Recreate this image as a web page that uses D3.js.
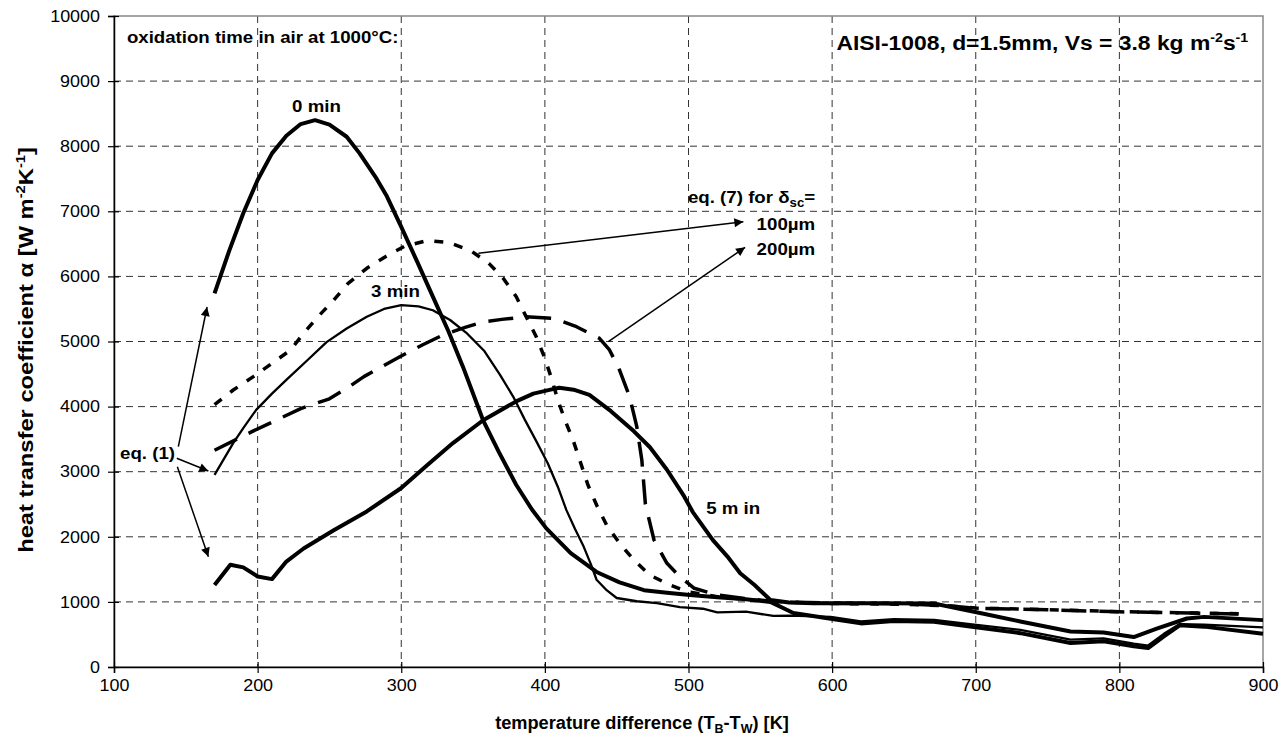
<!DOCTYPE html>
<html>
<head>
<meta charset="utf-8">
<script src="https://cdn.jsdelivr.net/npm/d3@7"></script>
<style>
  body { margin: 0; background: #fff; }
  text { font-family: "Liberation Sans", Arial, sans-serif; }
</style>
</head>
<body>
<svg width="1284" height="744"></svg>
<script>
// Data: [temperature difference K, alpha W/m2K]
const min0 = [[170,5740],[180,6380],[190,6970],[200,7480],[210,7890],[220,8160],[230,8340],[240,8400],[250,8330],[262,8145],[271,7890],[282,7530],[290,7230],[300,6760],[311,6230],[322,5690],[333,5150],[343,4610],[357,3790],[368,3300],[380,2800],[391,2420],[401,2130],[418,1750],[436,1460],[452,1300],[469,1180],[485,1140],[501,1106],[520,1070],[540,1040],[557,1000],[573,830],[599,740],[620,670],[643,705],[671,695],[696,620],[731,520],[766,370],[789,395],[810,320],[820,290],[831,470],[842,640],[859,620],[900,510]];
const min3 = [[170,2950],[183,3440],[190,3670],[199,3950],[210,4200],[220,4410],[235,4720],[248,4990],[262,5200],[276,5380],[288,5500],[300,5560],[312,5540],[322,5480],[334,5330],[346,5120],[358,4850],[369,4480],[378,4150],[386,3800],[394,3470],[402,3130],[409,2770],[415,2410],[421,2120],[427,1850],[432,1580],[436,1340],[443,1180],[450,1060],[464,1010],[478,980],[494,920],[510,895],[520,840],[540,850],[559,785],[571,790],[599,770],[620,700],[643,735],[671,725],[696,660],[731,570],[766,420],[789,440],[810,360],[820,330],[831,510],[842,660],[859,650],[900,610]];
const min5 = [[170,1260],[181,1570],[190,1530],[200,1390],[210,1350],[220,1620],[232,1820],[253,2100],[276,2390],[300,2750],[318,3100],[336,3440],[357,3790],[380,4080],[392,4200],[404,4260],[410,4290],[420,4260],[431,4180],[446,3930],[462,3620],[473,3380],[485,3030],[497,2620],[503,2380],[517,1950],[527,1700],[536,1440],[546,1260],[557,1030],[570,990],[587,980],[633,980],[671,975],[687,900],[703,830],[731,700],[766,545],[789,530],[810,460],[826,590],[847,745],[859,770],[900,720]];
const eq7_100 = [[170,4030],[183,4255],[197,4460],[210,4665],[223,4870],[232,5125],[242,5380],[253,5637],[263,5893],[276,6124],[289,6302],[302,6460],[318,6550],[333,6520],[348,6400],[361,6200],[371,5970],[380,5690],[387,5380],[394,5073],[400,4741],[405,4408],[409,4101],[414,3794],[420,3461],[425,3129],[430,2795],[436,2488],[443,2181],[452,1900],[462,1643],[473,1413],[487,1260],[499,1157],[520,1080],[540,1040],[560,1000],[600,975],[650,965],[680,940],[700,905],[750,880],[800,850],[850,830],[890,815]];
const eq7_200 = [[170,3330],[196,3615],[230,3970],[250,4120],[262,4280],[274,4460],[299,4766],[315,4950],[329,5100],[345,5220],[357,5300],[370,5340],[387,5380],[406,5356],[422,5227],[438,5049],[445,4870],[452,4562],[459,4152],[464,3691],[467.5,3180],[470,2500],[476,1951],[485,1593],[494,1387],[504,1209],[520,1106],[540,1050],[560,1005],[600,980],[650,970],[680,940],[700,900],[750,878],[800,848],[850,828],[890,812]];

const xTicks = [100, 200, 300, 400, 500, 600, 700, 800, 900];
const yTicks = [0, 1000, 2000, 3000, 4000, 5000, 6000, 7000, 8000, 9000, 10000];

// annotation arrows in data units: [from, to]
const arrows = [
    [[144.8, 3384], [164.8, 5530]],
    [[143.7, 3206], [165.7, 3010]],
    [[144.1, 3077], [165.7, 1694]],
    [[353.7, 6354], [538.2, 6840]],
    [[444.2, 4997], [539.4, 6447]]
];

// Constants
const svg = d3.select('svg');
const margin = { top: 16, right: 21, bottom: 77, left: 114 };
const width = +svg.attr('width') - margin.left - margin.right;
const height = +svg.attr('height') - margin.top - margin.bottom;
const stretch = 1.1; // the original lettering is a bit wider than Arial

const x = d3.scaleLinear().domain([100, 900]).range([0, width]);
const y = d3.scaleLinear().domain([0, 10000]).range([height, 0]);

svg.append('defs').append('marker')
    .attr('id', 'arrow')
    .attr('viewBox', '0 0 10 10')
    .attr('refX', 10).attr('refY', 5)
    .attr('markerWidth', 13).attr('markerHeight', 9)
    .attr('markerUnits', 'userSpaceOnUse')
    .attr('orient', 'auto')
    .append('path')
    .attr('d', 'M0,0L10,5L0,10z')
    .attr('fill', '#000');

const g = svg.append('g').attr('transform', `translate(${margin.left},${margin.top})`);

// grid
g.append('g').selectAll('line')
    .data(yTicks.slice(1, -1))
    .join('line')
    .attr('x1', 0).attr('x2', width)
    .attr('y1', d => y(d)).attr('y2', d => y(d))
    .attr('stroke', '#333').attr('stroke-width', 1).attr('stroke-dasharray', '7,5');
g.append('g').selectAll('line')
    .data(xTicks.slice(1, -1))
    .join('line')
    .attr('y1', 0).attr('y2', height)
    .attr('x1', d => x(d)).attr('x2', d => x(d))
    .attr('stroke', '#333').attr('stroke-width', 1).attr('stroke-dasharray', '7,5');

// frame
g.append('rect')
    .attr('width', width).attr('height', height)
    .attr('fill', 'none').attr('stroke', '#888').attr('stroke-width', 1.5);

// axes
const xAxis = g.append('g')
    .attr('transform', `translate(0,${height})`)
    .call(d3.axisBottom(x).tickValues(xTicks).tickSize(6).tickPadding(6).tickFormat(d3.format('d')));
const yAxis = g.append('g')
    .call(d3.axisLeft(y).tickValues(yTicks).tickSize(6).tickPadding(8).tickFormat(d3.format('d')));
xAxis.selectAll('.tick line').attr('y1', -5);
yAxis.selectAll('.tick line').attr('x1', 5);
[xAxis, yAxis].forEach(a => {
    a.select('.domain').attr('stroke', '#000').attr('stroke-width', 1.5);
    a.selectAll('.tick line').attr('stroke', '#000').attr('stroke-width', 1.2);
    a.selectAll('text').attr('font-size', 16.3).attr('fill', '#000')
        .attr('font-family', '"Liberation Sans", Arial, sans-serif');
});
xAxis.selectAll('text').attr('transform', `scale(${stretch},1)`);
yAxis.selectAll('text').attr('x', 0).attr('transform', `translate(-14,0) scale(${stretch},1)`);

// curves
const line = d3.line().x(d => x(d[0])).y(d => y(d[1]));
const series = [
    { data: eq7_100, w: 3.5, dash: '9,11' },
    { data: eq7_200, w: 3.5, dash: '25,13' },
    { data: min3, w: 2.3, dash: null },
    { data: min5, w: 4, dash: null },
    { data: min0, w: 4, dash: null }
];
g.append('g').selectAll('path')
    .data(series)
    .join('path')
    .attr('d', d => line(d.data))
    .attr('fill', 'none')
    .attr('stroke', '#000')
    .attr('stroke-width', d => d.w)
    .attr('stroke-linejoin', 'round')
    .attr('stroke-dasharray', d => d.dash);

// arrows
g.append('g').selectAll('line')
    .data(arrows)
    .join('line')
    .attr('x1', d => x(d[0][0])).attr('y1', d => y(d[0][1]))
    .attr('x2', d => x(d[1][0])).attr('y2', d => y(d[1][1]))
    .attr('stroke', '#000').attr('stroke-width', 1.5)
    .attr('marker-end', 'url(#arrow)');

// labels (placed in data units, widened a little like the original)
const label = (tx, ty, anchor, size, sx = stretch) => g.append('g')
    .attr('transform', `translate(${x(tx)},${y(ty)}) scale(${sx},1)`)
    .append('text')
    .attr('text-anchor', anchor)
    .attr('font-size', size)
    .attr('font-weight', 'bold');

label(109, 9592, 'start', 16.5, 1.13).text('oxidation time in air at 1000°C:');
const aisi = label(889.7, 9485, 'end', 21, 1.09);
aisi.append('tspan').text('AISI-1008, d=1.5mm, Vs = 3.8 kg m');
aisi.append('tspan').attr('dy', -8).attr('font-size', 13).text('-2');
aisi.append('tspan').attr('dy', 8).text('s');
aisi.append('tspan').attr('dy', -8).attr('font-size', 13).text('-1');

label(241, 8525, 'middle', 17).text('0 min');
label(296, 5683, 'middle', 17).text('3 min');
label(512.3, 2350, 'start', 17).text('5 m in');
label(104.2, 3195, 'start', 17).text('eq. (1)');

const eq7 = label(588.2, 7135, 'end', 17);
eq7.append('tspan').text('eq. (7) for δ');
eq7.append('tspan').attr('dy', 4).attr('font-size', 12).text('sc');
eq7.append('tspan').attr('dy', -4).text('=');
label(588.2, 6712, 'end', 17).text('100µm');
label(588.2, 6336, 'end', 17).text('200µm');

// axis titles
const xt = svg.append('g')
    .attr('transform', `translate(642,729) scale(1.04,1)`)
    .append('text')
    .attr('text-anchor', 'middle').attr('font-size', 17.5).attr('font-weight', 'bold');
xt.append('tspan').text('temperature difference (T');
xt.append('tspan').attr('dy', 4).attr('font-size', 12).text('B');
xt.append('tspan').attr('dy', -4).text('-T');
xt.append('tspan').attr('dy', 4).attr('font-size', 12).text('W');
xt.append('tspan').attr('dy', -4).text(') [K]');

const yt = svg.append('g')
    .attr('transform', `translate(33,350) rotate(-90) scale(1.13,1)`)
    .append('text')
    .attr('text-anchor', 'middle').attr('font-size', 21).attr('font-weight', 'bold');
yt.append('tspan').text('heat transfer coefficient α [W m');
yt.append('tspan').attr('dy', -8).attr('font-size', 13).text('-2');
yt.append('tspan').attr('dy', 8).text('K');
yt.append('tspan').attr('dy', -8).attr('font-size', 13).text('-1');
yt.append('tspan').attr('dy', 8).text(']');
</script>
</body>
</html>
